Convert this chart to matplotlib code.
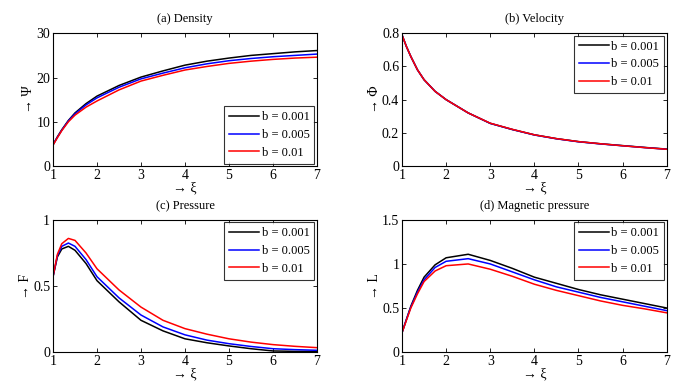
import numpy as np
import matplotlib
matplotlib.use('Agg')
import matplotlib.pyplot as plt

plt.rcParams['font.family'] = ['Liberation Serif', 'DejaVu Serif']

# sample points along xi
xi = [1, 1.1, 1.2, 1.35, 1.5, 1.75, 2, 2.5, 3, 3.5, 4, 4.5, 5, 5.5, 6, 6.5, 7]
labels = ['b = 0.001', 'b = 0.005', 'b = 0.01']
colors = ['black', 'blue', 'red']

# (a) density
dens_001 = [4.8, 6.6, 8.2, 10.3, 12.0, 14.1, 15.8, 18.2, 20.1, 21.5, 22.8, 23.7, 24.4, 25.0, 25.4, 25.8, 26.1]
dens_005 = [4.8, 6.5, 8.1, 10.2, 11.8, 13.8, 15.4, 17.8, 19.7, 21.0, 22.2, 23.1, 23.8, 24.3, 24.7, 25.0, 25.3]
dens_01 = [4.7, 6.4, 8.0, 10.0, 11.5, 13.3, 14.7, 17.2, 19.2, 20.5, 21.7, 22.5, 23.2, 23.7, 24.1, 24.4, 24.6]

# (b) velocity (the three curves almost coincide)
vel_001 = [0.79, 0.72, 0.66, 0.58, 0.52, 0.45, 0.40, 0.32, 0.257, 0.22, 0.188, 0.165, 0.147, 0.134, 0.123, 0.112, 0.102]
vel_005 = [0.79, 0.72, 0.66, 0.58, 0.52, 0.45, 0.40, 0.32, 0.257, 0.22, 0.187, 0.164, 0.146, 0.133, 0.122, 0.111, 0.101]
vel_01 = [0.79, 0.72, 0.66, 0.58, 0.52, 0.45, 0.40, 0.32, 0.258, 0.221, 0.188, 0.165, 0.147, 0.134, 0.122, 0.111, 0.101]

# (c) pressure
pres_001 = [0.57, 0.72, 0.78, 0.80, 0.77, 0.67, 0.54, 0.38, 0.24, 0.16, 0.10, 0.07, 0.046, 0.025, 0.008, 0.005, 0.005]
pres_005 = [0.57, 0.73, 0.80, 0.825, 0.80, 0.70, 0.57, 0.41, 0.28, 0.19, 0.13, 0.09, 0.063, 0.042, 0.025, 0.018, 0.013]
pres_01 = [0.57, 0.74, 0.82, 0.86, 0.845, 0.75, 0.63, 0.47, 0.34, 0.24, 0.177, 0.135, 0.10, 0.075, 0.056, 0.043, 0.033]

# (d) magnetic pressure
mag_001 = [0.22, 0.37, 0.52, 0.70, 0.85, 0.99, 1.07, 1.11, 1.04, 0.95, 0.85, 0.78, 0.71, 0.65, 0.60, 0.55, 0.50]
mag_005 = [0.22, 0.37, 0.51, 0.68, 0.82, 0.96, 1.03, 1.06, 1.00, 0.91, 0.82, 0.74, 0.68, 0.62, 0.57, 0.52, 0.47]
mag_01 = [0.22, 0.36, 0.50, 0.66, 0.80, 0.92, 0.98, 1.00, 0.94, 0.86, 0.77, 0.70, 0.64, 0.58, 0.53, 0.49, 0.445]

panels = [
    ('(a) Density', '→ Ψ', [dens_001, dens_005, dens_01], (0, 30), [0, 10, 20, 30], ['0', '10', '20', '30'], 'lower right'),
    ('(b) Velocity', '→ Φ', [vel_001, vel_005, vel_01], (0, 0.8), [0, 0.2, 0.4, 0.6, 0.8], ['0', '0.2', '0.4', '0.6', '0.8'], 'upper right'),
    ('(c) Pressure', '→ F', [pres_001, pres_005, pres_01], (0, 1), [0, 0.5, 1], ['0', '0.5', '1'], 'upper right'),
    ('(d) Magnetic pressure', '→ L', [mag_001, mag_005, mag_01], (0, 1.5), [0, 0.5, 1, 1.5], ['0', '0.5', '1', '1.5'], 'upper right'),
]

# axes rectangles in figure fractions
rects = [
    [0.0776, 0.5677, 0.3865, 0.3456],
    [0.5886, 0.5677, 0.3875, 0.3456],
    [0.0776, 0.0833, 0.3865, 0.3440],
    [0.5886, 0.0833, 0.3875, 0.3440],
]

fig = plt.figure(figsize=(6.83, 3.84), dpi=100)

for rect, (title, ylab, series, ylim, yt, ytl, loc) in zip(rects, panels):
    ax = fig.add_axes(rect)
    for ys, c, lab in zip(series, colors, labels):
        ax.plot(xi, ys, color=c, lw=1.1, label=lab)
    ax.set_xlim(1, 7)
    ax.set_ylim(*ylim)
    ax.set_xticks(range(1, 8))
    ax.set_yticks(yt)
    ax.set_yticklabels(ytl)
    ax.tick_params(direction='in', top=True, right=True, length=3, width=0.6, labelsize=10, pad=2)
    for s in ax.spines.values():
        s.set_linewidth(0.8)
    ax.set_title(title, fontsize=9, pad=8)
    ax.set_xlabel('→ ξ', fontsize=10, labelpad=0)
    ax.set_ylabel(ylab, fontsize=10, labelpad=1)
    leg = ax.legend(loc=loc, fontsize=9, frameon=True, fancybox=False, edgecolor='black',
                    handlelength=2.4, handletextpad=0.2, labelspacing=0.45,
                    borderaxespad=0.2, borderpad=0.4)
    leg.get_frame().set_linewidth(0.8)

fig.savefig('out.png', dpi=100)
